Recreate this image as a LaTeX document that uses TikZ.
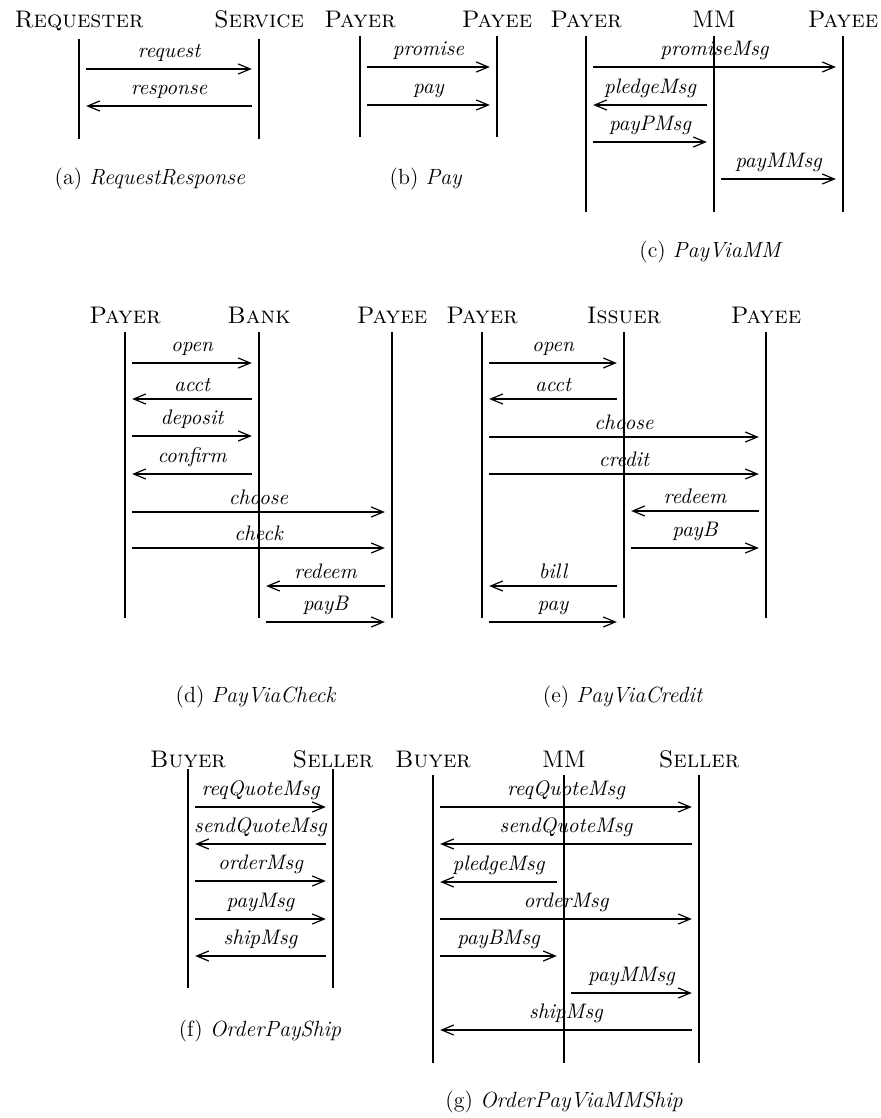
\documentclass[tikz,border=0pt]{standalone}
\usetikzlibrary{arrows.meta}
\tikzset{
  role/.style={anchor=base, inner sep=0pt, font=\large\scshape},
  life/.style={line width=0.6pt},
  msg/.style={line width=0.6pt, -{Straight Barb[length=6pt,width=5pt]}, shorten <=3.6pt, shorten >=3.6pt},
  lbl/.style={above, font=\fontsize{10.5}{12}\itshape},
  capt/.style={anchor=base, inner sep=0pt, font=\fontsize{11}{13}\selectfont}
}
\begin{document}
\begin{tikzpicture}[x=0.5pt, y=-0.5pt]
\useasboundingbox (0,0) rectangle (880,1118);
% (a) RequestResponse
\node[role] (aReq) at (79,28) {Requester};
\node[role] (aSrv) at (259,28) {Service};
\foreach \n in {aReq,aSrv} \draw[life] (\n |- 0,39) -- (\n |- 0,139);
\draw[msg] (aReq |- 0,69) -- node[lbl] (a1) {request} (aSrv |- 0,69);
\draw[msg] (aSrv |- 0,106) -- node[lbl] (a2) {response} (aReq |- 0,106);
\node[capt] (capA) at (150,185) {(a) \textit{RequestResponse}};
% (b) Pay
\node[role] (bPr) at (360,28) {Payer};
\node[role] (bPe) at (497,28) {Payee};
\foreach \n in {bPr,bPe} \draw[life] (\n |- 0,36) -- (\n |- 0,137);
\draw[msg] (bPr |- 0,67) -- node[lbl] (b1) {promise} (bPe |- 0,67);
\draw[msg] (bPr |- 0,105) -- node[lbl] (b2) {pay} (bPe |- 0,105);
\node[capt] (capB) at (426,185) {(b) \textit{Pay}};
% (c) PayViaMM
\node[role] (cPr) at (586,28) {Payer};
\node[role,font=\large] (cMM) at (714,28) {MM};
\node[role] (cPe) at (843,28) {Payee};
\foreach \n in {cPr,cMM,cPe} \draw[life] (\n |- 0,36) -- (\n |- 0,212);
\draw[msg] (cPr |- 0,67) -- node[lbl] (c1) {promiseMsg} (cPe |- 0,67);
\draw[msg] (cMM |- 0,105) -- node[lbl] (c2) {pledgeMsg} (cPr |- 0,105);
\draw[msg] (cPr |- 0,142) -- node[lbl] (c3) {payPMsg} (cMM |- 0,142);
\draw[msg] (cMM |- 0,179) -- node[lbl] (c4) {payMMsg} (cPe |- 0,179);
\node[capt] (capC) at (711,257) {(c) \textit{PayViaMM}};
% (d) PayViaCheck
\node[role] (dPr) at (125,323) {Payer};
\node[role] (dBk) at (259,323) {Bank};
\node[role] (dPe) at (392,323) {Payee};
\foreach \n in {dPr,dBk,dPe} \draw[life] (\n |- 0,332) -- (\n |- 0,618);
\draw[msg] (dPr |- 0,363) -- node[lbl] (d1) {open} (dBk |- 0,363);
\draw[msg] (dBk |- 0,399) -- node[lbl] (d2) {acct} (dPr |- 0,399);
\draw[msg] (dPr |- 0,436) -- node[lbl] (d3) {deposit} (dBk |- 0,436);
\draw[msg] (dBk |- 0,474) -- node[lbl] (d4) {confirm} (dPr |- 0,474);
\draw[msg] (dPr |- 0,512) -- node[lbl] (d5) {choose} (dPe |- 0,512);
\draw[msg] (dPr |- 0,548) -- node[lbl] (d6) {check} (dPe |- 0,548);
\draw[msg] (dPe |- 0,586) -- node[lbl] (d7) {redeem} (dBk |- 0,586);
\draw[msg] (dBk |- 0,622) -- node[lbl] (d8) {payB} (dPe |- 0,622);
\node[capt] (capD) at (256,702) {(d) \textit{PayViaCheck}};
% (e) PayViaCredit
\node[role] (ePr) at (482,323) {Payer};
\node[role] (eIs) at (624,323) {Issuer};
\node[role] (ePe) at (766,323) {Payee};
\foreach \n in {ePr,eIs,ePe} \draw[life] (\n |- 0,332) -- (\n |- 0,618);
\draw[msg] (ePr |- 0,363) -- node[lbl] (e1) {open} (eIs |- 0,363);
\draw[msg] (eIs |- 0,399) -- node[lbl] (e2) {acct} (ePr |- 0,399);
\draw[msg] (ePr |- 0,437) -- node[lbl] (e3) {choose} (ePe |- 0,437);
\draw[msg] (ePr |- 0,474) -- node[lbl] (e4) {credit} (ePe |- 0,474);
\draw[msg] (ePe |- 0,511) -- node[lbl] (e5) {redeem} (eIs |- 0,511);
\draw[msg] (eIs |- 0,548) -- node[lbl] (e6) {payB} (ePe |- 0,548);
\draw[msg] (eIs |- 0,586) -- node[lbl] (e7) {bill} (ePr |- 0,586);
\draw[msg] (ePr |- 0,622) -- node[lbl] (e8) {pay} (eIs |- 0,622);
\node[capt] (capE) at (623,702) {(e) \textit{PayViaCredit}};
% (f) OrderPayShip
\node[role] (fBy) at (188,767) {Buyer};
\node[role] (fSl) at (333,767) {Seller};
\foreach \n in {fBy,fSl} \draw[life] (\n |- 0,769) -- (\n |- 0,988);
\draw[msg] (fBy |- 0,807) -- node[lbl] (f1) {reqQuoteMsg} (fSl |- 0,807);
\draw[msg] (fSl |- 0,844) -- node[lbl] (f2) {sendQuoteMsg} (fBy |- 0,844);
\draw[msg] (fBy |- 0,881) -- node[lbl] (f3) {orderMsg} (fSl |- 0,881);
\draw[msg] (fBy |- 0,919) -- node[lbl] (f4) {payMsg} (fSl |- 0,919);
\draw[msg] (fSl |- 0,956) -- node[lbl] (f5) {shipMsg} (fBy |- 0,956);
\node[capt] (capF) at (260,1036) {(f) \textit{OrderPayShip}};
% (g) OrderPayViaMMShip
\node[role] (gBy) at (433,767) {Buyer};
\node[role,font=\large] (gMM) at (564,767) {MM};
\node[role] (gSl) at (699,767) {Seller};
\foreach \n in {gBy,gMM,gSl} \draw[life] (\n |- 0,775) -- (\n |- 0,1063);
\draw[msg] (gBy |- 0,807) -- node[lbl] (g1) {reqQuoteMsg} (gSl |- 0,807);
\draw[msg] (gSl |- 0,844) -- node[lbl] (g2) {sendQuoteMsg} (gBy |- 0,844);
\draw[msg] (gMM |- 0,882) -- node[lbl] (g3) {pledgeMsg} (gBy |- 0,882);
\draw[msg] (gBy |- 0,919) -- node[lbl] (g4) {orderMsg} (gSl |- 0,919);
\draw[msg] (gBy |- 0,956) -- node[lbl] (g5) {payBMsg} (gMM |- 0,956);
\draw[msg] (gMM |- 0,993) -- node[lbl] (g6) {payMMsg} (gSl |- 0,993);
\draw[msg] (gSl |- 0,1030) -- node[lbl] (g7) {shipMsg} (gBy |- 0,1030);
\node[capt] (capG) at (564,1107) {(g) \textit{OrderPayViaMMShip}};
\end{tikzpicture}
\end{document}
